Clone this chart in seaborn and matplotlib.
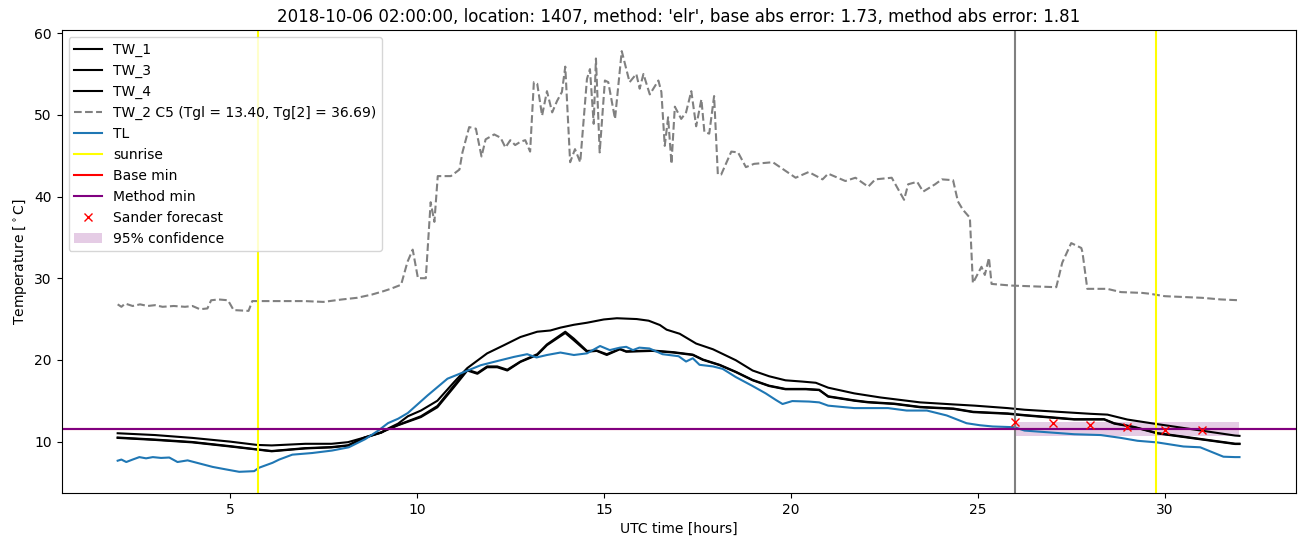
import matplotlib
matplotlib.use("Agg")
import matplotlib.pyplot as plt
import seaborn as sns

# ---------------- data ----------------
tw1_t = [2.0, 3.0, 4.0, 5.0, 5.73, 6.12, 7.02, 7.72, 8.16, 8.6, 9.05, 9.23, 9.5, 9.76, 10.11,
         10.55, 11.0, 11.35, 11.88, 12.33, 12.77, 13.22, 13.57, 13.84, 14.2, 14.55, 15.0, 15.35,
         15.88, 16.2, 16.5, 16.68, 17.03, 17.47, 17.92, 18.53, 18.98, 19.42, 19.86, 20.3, 20.67,
         21.0, 21.7, 22.4, 23.46, 24.35, 24.92, 25.8, 26.25, 28.02, 28.47, 29.0, 29.71, 31.88, 32.0]
tw1_v = [11.02, 10.8, 10.45, 10.0, 9.59, 9.53, 9.73, 9.73, 9.93, 10.5, 11.1, 11.6, 12.2, 13.1, 13.8,
         15.0, 17.3, 19.0, 20.8, 21.8, 22.8, 23.45, 23.6, 23.95, 24.3, 24.55, 24.95, 25.1,
         25.0, 24.8, 24.27, 23.7, 23.2, 22.0, 21.3, 19.96, 18.7, 18.0, 17.5, 17.35, 17.2,
         16.6, 15.9, 15.4, 14.8, 14.55, 14.4, 14.1, 13.9, 13.4, 13.3, 12.7, 12.2, 10.74, 10.7]

pair_t = [2.0, 3.0, 4.0, 5.0, 5.73, 6.12, 7.02, 7.72, 8.16, 8.6, 9.05, 9.23, 9.5, 10.11, 10.55,
          11.0, 11.35, 11.62, 11.88, 12.15, 12.42, 12.77, 13.22, 13.48, 13.97, 14.2, 14.55, 14.81,
          15.08, 15.43, 15.6, 16.3, 16.86, 17.38, 17.65, 18.1, 18.53, 18.98, 19.42, 19.86, 20.4,
          20.76, 21.0, 21.7, 22.06, 22.77, 23.46, 24.35, 24.88, 25.8, 26.25, 27.58, 28.38, 28.65,
          29.18, 29.8, 31.88, 32.0]
tw3_v = [10.45, 10.2, 9.9, 9.4, 9.02, 8.81, 9.16, 9.29, 9.5, 10.45, 11.1, 11.5, 12.0, 13.0, 14.2,
         16.7, 18.7, 18.3, 19.1, 19.1, 18.7, 19.75, 20.6, 21.8, 23.3, 22.4, 21.0, 21.1,
         20.6, 21.3, 21.0, 21.1, 20.9, 20.6, 20.0, 19.35, 18.5, 17.5, 16.8, 16.4, 16.4,
         16.3, 15.5, 15.0, 14.8, 14.6, 14.2, 14.0, 13.6, 13.4, 13.2, 12.7, 12.7, 12.2,
         11.76, 11.0, 9.7, 9.7]
tw4_v = [10.5, 10.25, 9.95, 9.45, 9.05, 8.85, 9.2, 9.33, 9.55, 10.5, 11.15, 11.5, 12.05, 13.1, 14.35,
         16.9, 18.8, 18.4, 19.2, 19.2, 18.8, 19.8, 20.7, 21.9, 23.45, 22.6, 21.1, 21.15,
         20.7, 21.35, 21.05, 21.15, 20.95, 20.65, 20.05, 19.4, 18.55, 17.55, 16.85, 16.45, 16.45,
         16.35, 15.55, 15.05, 14.85, 14.65, 14.25, 14.05, 13.65, 13.45, 13.25, 12.75, 12.75, 12.25,
         11.8, 11.05, 9.75, 9.75]

tw2_t = [2.0, 2.1, 2.2, 2.4, 2.6, 2.8, 3.0, 3.2, 3.5, 3.8, 4.0, 4.2, 4.4, 4.5, 4.7, 4.95, 5.1, 5.5,
         5.6, 6.0, 6.5, 7.0, 7.5, 8.0, 8.4, 8.8, 9.1, 9.3, 9.58, 9.75, 9.89, 10.03, 10.24, 10.37,
         10.47, 10.56, 10.91, 11.14, 11.22, 11.4, 11.58, 11.73, 11.84, 12.07, 12.24, 12.37, 12.5,
         12.63, 12.77, 12.9, 13.03, 13.13, 13.22, 13.35, 13.48, 13.62, 13.75, 13.88, 13.97, 14.1,
         14.23, 14.37, 14.55, 14.63, 14.73, 14.79, 14.89, 15.03, 15.12, 15.3, 15.48, 15.69, 15.87,
         15.96, 16.06, 16.23, 16.46, 16.54, 16.63, 16.72, 16.81, 16.9, 17.07, 17.2, 17.34, 17.47,
         17.61, 17.69, 17.82, 17.95, 18.05, 18.14, 18.41, 18.59, 18.8, 19.02, 19.52, 20.13, 20.48,
         20.85, 21.0, 21.46, 21.73, 22.07, 22.26, 22.7, 23.03, 23.14, 23.38, 23.54, 23.86, 24.04,
         24.34, 24.47, 24.6, 24.79, 24.87, 25.1, 25.19, 25.3, 25.37, 25.9, 27.1, 27.26, 27.5,
         27.77, 27.8, 27.93, 28.46, 28.83, 29.4, 29.6, 30.0, 30.5, 31.0, 31.5, 32.0]
tw2_v = [26.8, 26.5, 26.9, 26.6, 26.8, 26.6, 26.7, 26.5, 26.6, 26.5, 26.6, 26.2, 26.3, 27.3, 27.4, 27.3, 26.1, 26.0,
         27.2, 27.2, 27.2, 27.2, 27.1, 27.4, 27.6, 28.0, 28.4, 28.7, 29.2, 32.0, 33.5, 30.0, 30.0, 39.3,
         36.9, 42.5, 42.5, 43.3, 45.4, 48.5, 48.3, 44.9, 47.0, 47.6, 47.2, 46.0, 46.9,
         46.3, 46.7, 46.9, 45.5, 54.0, 53.8, 49.9, 52.9, 50.3, 51.7, 52.8, 55.9, 44.2,
         45.8, 44.2, 54.4, 55.6, 48.9, 56.9, 45.4, 54.2, 54.0, 49.5, 57.8, 54.0, 55.0,
         53.2, 55.0, 52.5, 54.2, 52.8, 46.2, 49.7, 44.0, 51.0, 49.5, 50.3, 52.9, 48.6,
         51.9, 47.9, 47.7, 52.3, 42.7, 42.7, 45.5, 45.4, 43.6, 44.0, 44.2, 42.3, 43.0,
         42.1, 42.8, 41.9, 42.3, 41.2, 42.1, 42.3, 39.6, 41.5, 41.8, 40.6, 41.5, 42.1,
         42.0, 39.4, 38.4, 37.4, 29.4, 31.4, 30.4, 32.5, 29.3, 29.1, 28.9, 31.9, 34.3,
         33.7, 33.2, 28.7, 28.7, 28.3, 28.2, 28.1, 27.8, 27.7, 27.6, 27.4, 27.3]

tl_t = [2.0, 2.1, 2.23, 2.4, 2.58, 2.76, 2.94, 3.16, 3.38, 3.6, 3.87, 4.18, 4.54, 4.89, 5.25, 5.65,
        5.78, 5.96, 6.14, 6.32, 6.67, 7.2, 7.73, 8.18, 8.62, 8.97, 9.23, 9.5, 9.76, 10.29, 10.82,
        11.27, 11.71, 12.24, 12.6, 12.95, 13.2, 13.48, 13.84, 14.2, 14.55, 14.9, 15.16, 15.43,
        15.6, 15.78, 15.95, 16.22, 16.57, 17.0, 17.2, 17.38, 17.56, 17.92, 18.18, 18.53, 18.98,
        19.33, 19.6, 19.78, 20.04, 20.49, 20.76, 21.0, 21.7, 22.6, 23.1, 23.64, 24.17, 24.7,
        25.06, 25.4, 25.98, 26.25, 27.58, 28.29, 28.83, 29.27, 29.8, 30.5, 30.95, 31.57, 31.88, 32.0]
tl_v = [7.66, 7.8, 7.5, 7.8, 8.1, 7.95, 8.1, 8.0, 8.05, 7.5, 7.7, 7.33, 6.9, 6.6, 6.3, 6.38,
        6.8, 7.1, 7.4, 7.8, 8.4, 8.6, 8.9, 9.3, 10.3, 11.35, 12.26, 12.8, 13.5, 15.66, 17.7,
        18.53, 19.35, 19.96, 20.37, 20.7, 20.3, 20.6, 20.9, 20.6, 20.8, 21.7, 21.2, 21.5,
        21.6, 21.2, 21.5, 21.4, 20.7, 20.45, 19.8, 20.2, 19.4, 19.2, 18.9, 17.9, 16.8,
        15.9, 15.1, 14.6, 14.96, 14.9, 14.8, 14.4, 14.1, 14.1, 13.8, 13.8, 13.2, 12.25,
        12.0, 11.85, 11.76, 11.35, 10.9, 10.8, 10.45, 10.1, 9.9, 9.4, 9.3, 8.15, 8.1, 8.1]

sunrise_times = [5.75, 29.78]
forecast_start = 26.0
base_min = 11.5
method_min = 11.5
fc_t = [26, 27, 28, 29, 30, 31]
fc_v = [12.4, 12.25, 12.05, 11.75, 11.45, 11.45]
conf_t = [26.0, 32.0]
conf_lo = [10.7, 10.7]
conf_hi = [12.45, 12.45]

title = ("2018-10-06 02:00:00, location: 1407, method: 'elr', "
         "base abs error: 1.73, method abs error: 1.81")

# ---------------- plot ----------------
fig, ax = plt.subplots(figsize=(13.1, 5.47), dpi=100)

sns.lineplot(x=tw1_t, y=tw1_v, ax=ax, color="black", label="TW_1")
sns.lineplot(x=pair_t, y=tw3_v, ax=ax, color="black", label="TW_3")
sns.lineplot(x=pair_t, y=tw4_v, ax=ax, color="black", label="TW_4")
sns.lineplot(x=tw2_t, y=tw2_v, ax=ax, color="gray", linestyle="--",
             label="TW_2 C5 (Tgl = 13.40, Tg[2] = 36.69)")
sns.lineplot(x=tl_t, y=tl_v, ax=ax, color="#1f77b4", label="TL")

ax.axvline(sunrise_times[0], color="yellow", label="sunrise")
ax.axvline(sunrise_times[1], color="yellow")
ax.axvline(forecast_start, color="gray")
ax.axhline(base_min, color="red", label="Base min")
ax.axhline(method_min, color="purple", label="Method min")
ax.plot(fc_t, fc_v, "x", color="red", label="Sander forecast")
ax.fill_between(conf_t, conf_lo, conf_hi, color="purple", alpha=0.2, linewidth=0,
                label="95% confidence")

ax.set_title(title)
ax.set_xlabel("UTC time [hours]")
ax.set_ylabel("Temperature [$^\\circ$C]")
ax.legend(loc="upper left")

fig.subplots_adjust(left=0.047, right=0.989, bottom=0.099, top=0.945)
fig.savefig("out.png", dpi=100)
